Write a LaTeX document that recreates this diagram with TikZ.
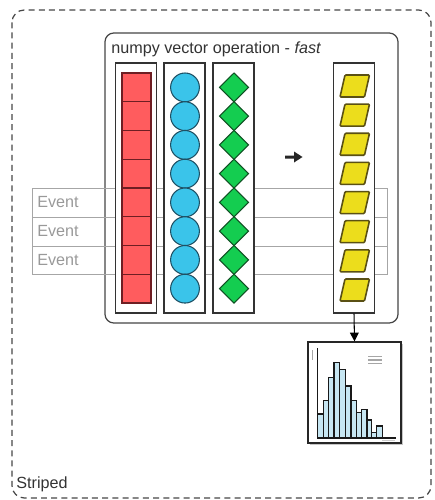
\documentclass[tikz,border=0pt]{standalone}
\usepackage{fontspec}
\setmainfont{Liberation Sans}
\usetikzlibrary{shapes.geometric,shadows,arrows.meta}
\definecolor{redfill}{RGB}{255,92,94}
\definecolor{redline}{RGB}{110,30,35}
\definecolor{bluefill}{RGB}{58,196,234}
\definecolor{blueline}{RGB}{30,80,100}
\definecolor{greenfill}{RGB}{20,205,80}
\definecolor{greenline}{RGB}{15,80,35}
\definecolor{yelfill}{RGB}{236,221,28}
\definecolor{yelline}{RGB}{90,80,20}
\definecolor{barfill}{RGB}{198,230,242}
\definecolor{frame}{RGB}{70,70,70}
\begin{document}
\begin{tikzpicture}[x=0.02cm,y=-0.02cm,
  lbl/.style={font=\fontsize{9.2}{11}\selectfont, inner sep=0pt},
  outerbox/.style={draw=frame, line width=0.7pt, dash pattern=on 3.4pt off 2.4pt, rounded corners=7pt},
  innerbox/.style={draw=frame, fill=white, line width=0.7pt, rounded corners=5pt},
  eventrow/.style={draw=black!35, line width=0.5pt},
  colbox/.style={draw=black!80, fill=white, line width=0.6pt, inner sep=0pt, minimum width=41*0.02cm, minimum height=250*0.02cm},
  cellred/.style={draw=redline, fill=redfill, line width=0.6pt},
  cellblue/.style={draw=blueline, fill=bluefill, line width=0.6pt},
  cellgreen/.style={draw=greenline, fill=greenfill, line width=0.6pt},
  cellyel/.style={draw=yelline, fill=yelfill, line width=0.9pt, rounded corners=0.6pt},
  histbox/.style={draw=black!85, fill=white, line width=0.7pt, inner sep=0pt, minimum width=93*0.02cm, minimum height=101*0.02cm, drop shadow={shadow xshift=1.2pt, shadow yshift=-1.2pt, opacity=0.45}},
  bar/.style={draw=black!90, fill=barfill, line width=0.6pt},
  conn/.style={draw=black, line width=0.6pt, -{Triangle[length=5pt,width=5pt]}}
]
\useasboundingbox (0,0) rectangle (434,500);
% outer striped frame
\draw[outerbox] (12,10) rectangle (431,498);
\node[lbl, anchor=west, text=black!80] (striped) at (16,484) {Striped};
% inner box
\draw[innerbox] (105,33) rectangle (398,323);
\node[lbl, anchor=west, text=black!80] (title) at (111,49) {numpy vector operation - \textit{fast}};
% event rows
\foreach \i/\ya/\yb in {1/188/217,2/217/246,3/246/274.5}{
  \draw[eventrow] (32,\ya) rectangle (387,\yb);
  \node[lbl, anchor=west, text=black!40] (event\i) at (37,{(\ya+\yb)/2}) {Event};
}
% column boxes
\node[colbox] (colred) at (136,188) {};
\node[colbox] (colblue) at (184.5,188) {};
\node[colbox] (colgreen) at (233.5,188) {};
\node[colbox] (colyel) at (354,188) {};
% red cells
\foreach \k in {0,...,7}{
  \draw[cellred] (122,{73+28.75*\k}) rectangle (151,{73+28.75*(\k+1)});
}
% blue circles
\foreach \k in {0,...,7}{
  \draw[cellblue] (185,{87.4+28.75*\k}) circle[radius=14.4];
}
% green diamonds
\foreach \k in {0,...,7}{
  \pgfmathsetmacro\cy{87.4+28.75*\k}
  \draw[cellgreen] (234,\cy-14.4) -- (248.5,\cy) -- (234,\cy+14.4) -- (219.5,\cy) -- cycle;
}
% yellow parallelograms
\foreach \k in {0,...,7}{
  \pgfmathsetmacro\cy{86+29.14*\k}
  \draw[cellyel] (340,\cy+11) -- (364.5,\cy+11) -- (369.5,\cy-11) -- (345,\cy-11) -- cycle;
}
% bold arrow symbol
\fill[black!85] (285,155.5) -- (294,155.5) -- (294,151.5) -- (302.5,157) -- (294,162.5) -- (294,158.5) -- (285,158.5) -- cycle;
% histogram
\node[histbox] (hist) at (354.5,392.5) {};
\draw[conn] (colyel.south) -- (hist.north);
\foreach \xa/\xb/\t in {317.7/323.3/414, 323.3/328.3/400.7, 328.3/334/377.3, 334/339.7/362.7, 339.7/345.3/369.3, 345.3/351/386, 351/356.3/400.7, 356.3/361.7/412.7, 361.7/367/409.3, 367/371.7/420, 371.7/376.3/432.7, 376.3/382.3/426}{
  \draw[bar] (\xa,438) rectangle (\xb,\t);
}
\draw[black!90, line width=0.7pt] (317.3,348) -- (317.3,438) -- (396,438);
\draw[black!35, line width=0.5pt] (312.3,350) -- (312.3,360);
\foreach \yy in {356.7,360,363.3}{
  \draw[black!35, line width=0.6pt] (368.3,\yy) -- (382.3,\yy);
}
\draw[black!20, line width=0.5pt] (382,440.5) -- (395,440.5);
\end{tikzpicture}
\end{document}
